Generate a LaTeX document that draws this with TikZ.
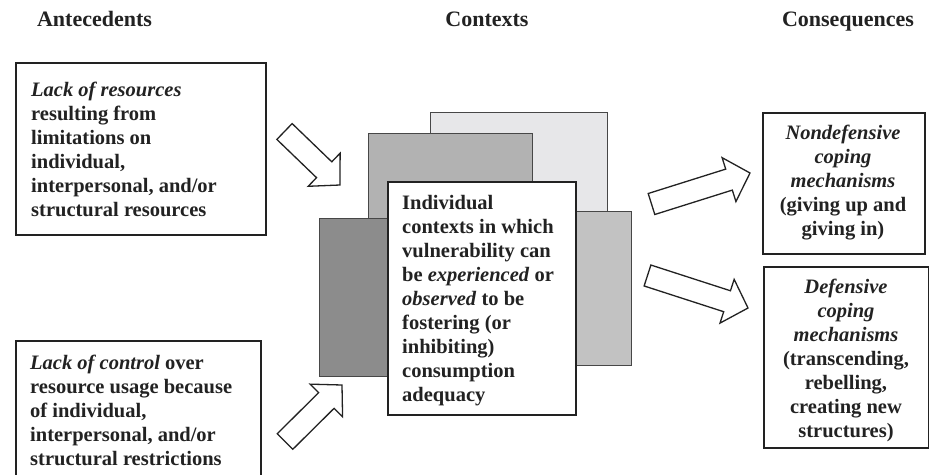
\documentclass[tikz,border=0pt]{standalone}
\usepackage{fontspec}
\setmainfont{Liberation Serif}
\usetikzlibrary{calc}
\newcommand\myblockarrow[3]{%
  \coordinate (#1t) at #2; \coordinate (#1p) at #3;
  \coordinate (#1b) at ($(#1p)!22pt!(#1t)$);
  \draw[blk] ($(#1t)!11pt!90:(#1p)$) -- ($(#1b)!11pt!90:(#1p)$) -- ($(#1b)!23pt!90:(#1p)$) -- (#1p)
    -- ($(#1b)!23pt!-90:(#1p)$) -- ($(#1b)!11pt!-90:(#1p)$) -- ($(#1t)!11pt!-90:(#1p)$) -- cycle;}
\definecolor{ctxlight}{HTML}{E7E7E9}
\definecolor{ctxmid}{HTML}{B2B2B2}
\definecolor{ctxdark}{HTML}{8C8C8C}
\definecolor{ctxright}{HTML}{C2C2C2}
\definecolor{ink}{HTML}{222222}
\begin{document}
\begin{tikzpicture}[x=1pt,y=-1pt,
  box/.style={draw=ink,line width=1.6pt,fill=white,inner sep=0pt,anchor=north west},
  ctx/.style={draw=black!72,line width=1.4pt,inner sep=0pt,anchor=north west},
  txt/.style={inner sep=0pt,text=ink,font=\fontsize{20.5}{24}\selectfont\bfseries,align=left,anchor=north west},
  ctxt/.style={inner sep=0pt,text=ink,font=\fontsize{20.5}{24}\selectfont\bfseries,align=center,anchor=north},
  hdr/.style={inner sep=0pt,text=ink,font=\fontsize{22}{26}\selectfont\bfseries,anchor=base},
  blk/.style={draw=ink,line width=1.3pt,fill=white,line join=miter}]
\useasboundingbox[fill=white] (0,0) rectangle (929,474);

% headers
\node[hdr] (h1) at (94.5,26) {Antecedents};
\node[hdr] (h2) at (487,26) {Contexts};
\node[hdr] (h3) at (848,26) {Consequences};

% antecedent boxes
\node[box,minimum width=250pt,minimum height=172pt] (ante1) at (15,62) {};
\node[txt] (ante1t) at (31,82) {\textit{Lack of resources}\\resulting from\\limitations on\\individual,\\interpersonal, and/or\\structural resources};
\node[box,minimum width=245pt,minimum height=150pt] (ante2) at (15,340) {};
\node[txt] (ante2t) at (30,355) {\textit{Lack of control} over\\resource usage because\\of individual,\\interpersonal, and/or\\structural restrictions};

% context stack
\node[ctx,fill=ctxlight,minimum width=177pt,minimum height=190pt] (cL) at (430,112) {};
\node[ctx,fill=ctxmid,minimum width=164pt,minimum height=170pt] (cM) at (368,133) {};
\node[ctx,fill=ctxright,minimum width=111pt,minimum height=154pt] (cR) at (520,211) {};
\node[ctx,fill=ctxdark,minimum width=100pt,minimum height=158pt] (cD) at (319,218) {};
\node[box,draw=ink,minimum width=188pt,minimum height=233pt] (ctr) at (387,181) {};
\node[txt] (ctrt) at (402,195) {Individual\\contexts in which\\vulnerability can\\be \textit{experienced} or\\\textit{observed} to be\\fostering (or\\inhibiting)\\consumption\\adequacy};

% consequence boxes
\node[box,minimum width=162pt,minimum height=141pt] (cons1) at (762,112) {};
\node[ctxt] (cons1t) at (843,125) {\textit{Nondefensive}\\\textit{coping}\\\textit{mechanisms}\\(giving up and\\giving in)};
\node[box,minimum width=165pt,minimum height=181pt] (cons2) at (763,266) {};
\node[ctxt] (cons2t) at (846,279) {\textit{Defensive}\\\textit{coping}\\\textit{mechanisms}\\(transcending,\\rebelling,\\creating new\\structures)};

% block arrows
\myblockarrow{a1}{(284.5,131.5)}{(340,185)}
\myblockarrow{a2}{(285,441.5)}{(342,385)}
\myblockarrow{a3}{(651.5,204)}{(750,173)}
\myblockarrow{a4}{(647.5,275.5)}{(748,308)}
\end{tikzpicture}
\end{document}
